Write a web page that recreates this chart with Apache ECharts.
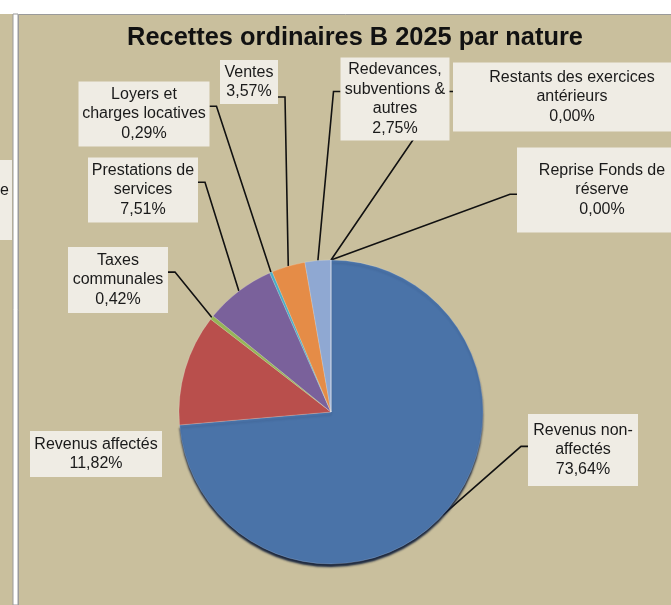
<!DOCTYPE html>
<html>
<head>
<meta charset="utf-8">
<script src="https://cdn.jsdelivr.net/npm/echarts@6/dist/echarts.min.js"></script>
<style>
html,body{margin:0;padding:0;background:#ffffff;}
#chart{width:671px;height:605px;}
</style>
</head>
<body>
<div id="chart"></div>
<script>
// ---- data ----
const categories = [
  'Revenus non-affectés',
  'Revenus affectés',
  'Taxes communales',
  'Prestations de services',
  'Loyers et charges locatives',
  'Ventes',
  'Redevances, subventions & autres',
  'Restants des exercices antérieurs',
  'Reprise Fonds de réserve'
];
const labelTexts = [
  'Revenus non-\naffectés',
  'Revenus affectés',
  'Taxes\ncommunales',
  'Prestations de\nservices',
  'Loyers et\ncharges locatives',
  'Ventes',
  'Redevances,\nsubventions &\nautres',
  'Restants des exercices\nantérieurs',
  'Reprise Fonds de\nréserve'
];
const values = [73.64, 11.82, 0.42, 7.51, 0.29, 3.57, 2.75, 0.00, 0.00];

// ---- styling / layout (not data) ----
const colors = ['#4A73A8', '#B94F4C', '#96B558', '#7A619B', '#4BACC6', '#E58C47', '#8FA8D2', '#4A73A8', '#B94F4C'];
// label box: center x, center y, box width, box height
const labelBoxes = [
  [583, 450, 110, 72],
  [96, 454, 132, 46],
  [118, 280, 100, 66],
  [143, 190, 110, 65],
  [144, 114, 131, 65],
  [249, 82, 58, 44],
  [395, 99, 109, 83],
  [572, 97, 238, 69],
  [602, 190, 170, 85]
];
// leader-line attachment: side of box and relative position along it (null = no leader line)
const leaderAttach = [
  ['left', 0.45],
  null,
  ['right', 0.38],
  ['right', 0.38],
  ['right', 0.38],
  ['right', 0.84],
  ['left', 0.41],
  ['left', 0.42],
  ['left', 0.55]
];
const LH = 19.5;
const STUB = 7;
const TAN = '#C9BF9D';
const BOXBG = '#EFECE4';
const FONT = 'Liberation Sans, Arial, sans-serif';

function fmtPct(v) { return v.toFixed(2).replace('.', ',') + '%'; }

const pieData = categories.map((name, i) => {
  const txt = labelTexts[i] + '\n' + fmtPct(values[i]);
  const lines = txt.split('\n').length;
  const b = labelBoxes[i];
  const pv = Math.max(0, (b[3] - lines * LH) / 2);
  const item = {
    name: name,
    value: values[i],
    itemStyle: { color: colors[i], borderColor: 'rgba(255,255,255,0.22)', borderWidth: 0.8 },
    label: {
      formatter: txt,
      width: b[2] - 6,
      overflow: 'none',
      padding: [pv, 3, pv, 3]
    }
  };
  if (!leaderAttach[i]) item.labelLine = { show: false };
  if (i === 0) {
    item.itemStyle.shadowColor = 'rgba(18,32,58,0.95)';
    item.itemStyle.shadowOffsetY = 3;
    item.itemStyle.shadowBlur = 2;
  }
  return item;
});

const chart = echarts.init(document.getElementById('chart'), null, { renderer: 'canvas' });
chart.setOption({
  animation: false,
  backgroundColor: '#ffffff',
  graphic: [
    { type: 'rect', shape: { x: 0, y: 14, width: 13, height: 591 }, style: { fill: TAN }, z: -10 },
    { type: 'rect', shape: { x: -30, y: 160, width: 42, height: 80 }, style: { fill: BOXBG }, z: -9 },
    { type: 'text', x: 0, y: 191, style: { text: 'e', fontSize: 16, fontFamily: FONT, fill: '#1a1a1a', verticalAlign: 'middle' }, z: -8 },
    { type: 'rect', shape: { x: 13, y: 14, width: 5, height: 591 }, style: { fill: '#ffffff', stroke: '#9a9a9a', lineWidth: 1 }, z: -9 },
    { type: 'rect', shape: { x: 18.5, y: 14.5, width: 660, height: 600 }, style: { fill: TAN, stroke: '#9a9a9a', lineWidth: 1 }, z: -10 }
  ],
  title: {
    text: 'Recettes ordinaires B 2025 par nature',
    left: 355,
    top: 25,
    padding: 0,
    textAlign: 'center',
    textStyle: { fontSize: 25.4, fontWeight: 'bold', color: '#111111', fontFamily: FONT }
  },
  series: [{
    type: 'pie',
    center: [331, 412],
    radius: 152,
    startAngle: 90,
    clockwise: true,
    avoidLabelOverlap: false,
    minShowLabelAngle: 0,
    data: pieData,
    label: {
      show: true,
      position: 'outside',
      color: '#1a1a1a',
      fontSize: 16,
      lineHeight: LH,
      fontFamily: FONT,
      backgroundColor: BOXBG,
      align: 'center'
    },
    labelLine: {
      show: true,
      length: 6,
      length2: STUB,
      smooth: false,
      minTurnAngle: 0,
      lineStyle: { color: '#111111', width: 1.6 }
    },
    labelLayout: function (params) {
      const i = params.dataIndex;
      const b = labelBoxes[i];
      const out = { x: b[0], y: b[1], align: 'center', verticalAlign: 'middle' };
      const att = leaderAttach[i];
      const pts = params.labelLinePoints;
      if (att && pts && pts.length) {
        const left = b[0] - b[2] / 2, right = b[0] + b[2] / 2;
        const top = b[1] - b[3] / 2, bottom = b[1] + b[3] / 2;
        let p, q;
        if (att[0] === 'left') { p = [left, top + att[1] * b[3]]; q = [left - STUB, p[1]]; }
        else if (att[0] === 'right') { p = [right, top + att[1] * b[3]]; q = [right + STUB, p[1]]; }
        else if (att[0] === 'bottom') { p = [left + att[1] * b[2], bottom]; q = [p[0], bottom + STUB]; }
        else { p = [left + att[1] * b[2], top]; q = [p[0], top - STUB]; }
        out.labelLinePoints = [pts[0].slice(), q, p];
      }
      return out;
    },
    emphasis: { disabled: true }
  }]
});
</script>
</body>
</html>
